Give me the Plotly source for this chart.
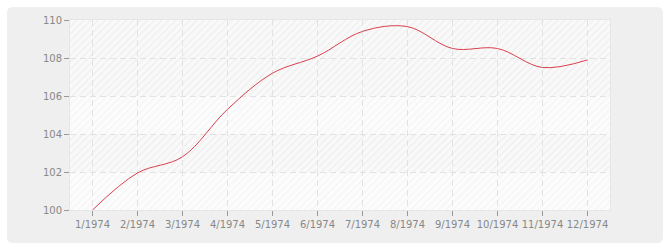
import plotly.graph_objects as go

months = ["1/1974", "2/1974", "3/1974", "4/1974", "5/1974", "6/1974",
          "7/1974", "8/1974", "9/1974", "10/1974", "11/1974", "12/1974"]
values = [100.0, 101.95, 102.8, 105.3, 107.2, 108.1, 109.4, 109.65, 108.5, 108.5, 107.5, 107.9]
y_ticks = [100, 102, 104, 106, 108, 110]
light_bands = [101, 105]
dark_bands = [103, 107, 109]

W, H = 670, 250
ML, MR, MT, MB = 70, 60, 20, 40
pw, ph = W - ML - MR, H - MT - MB

def px(x):
    return (x - ML) / pw

def py(y):
    return (H - MB - y) / ph

# rounded panel path in paper coords
x0, x1, yt, yb = px(7), px(663), py(7), py(243)
rx, ry = 6 / pw, 6 / ph
panel = (f"M{x0+rx},{yt} L{x1-rx},{yt} Q{x1},{yt} {x1},{yt-ry} "
         f"L{x1},{yb+ry} Q{x1},{yb} {x1-rx},{yb} L{x0+rx},{yb} "
         f"Q{x0},{yb} {x0},{yb+ry} L{x0},{yt-ry} Q{x0},{yt} {x0+rx},{yt} Z")

fig = go.Figure()

for centers, bg, fg in [(light_bands, "#fcfcfc", "#f3f3f3"),
                        (dark_bands, "#f9f9f9", "#ececec")]:
    fig.add_trace(go.Bar(
        y=centers, x=[1] * len(centers), base=0, width=2, orientation="h",
        xaxis="x", yaxis="y",
        marker=dict(color=bg, line=dict(width=0),
                    pattern=dict(shape="/", size=5, solidity=0.2,
                                 fgcolor=fg, bgcolor=bg, fgopacity=1, fillmode="replace")),
        hoverinfo="skip", showlegend=False))

fig.add_trace(go.Scatter(
    x=months, y=values, mode="lines", xaxis="x2", yaxis="y2",
    line=dict(color="#d9404c", width=1, shape="spline", smoothing=1),
    showlegend=False))

axis_common = dict(showgrid=True, gridcolor="#e2e2e2", griddash="6px,4px", gridwidth=1,
                   ticks="outside", ticklen=5, tickcolor="#999999",
                   showline=True, linecolor="#e6e6e6", mirror=True, zeroline=False,
                   automargin=False,
                   tickfont=dict(family="DejaVu Sans", size=10, color="#888888"))

fig.update_layout(
    width=W, height=H,
    margin=dict(l=ML, r=MR, t=MT, b=MB),
    paper_bgcolor="white",
    plot_bgcolor="rgba(0,0,0,0)",
    font=dict(family="DejaVu Sans", size=10, color="#888888"),
    bargap=0,
    barmode="overlay",
    xaxis=dict(range=[0, 1], visible=False, domain=[0, 1], fixedrange=True),
    yaxis=dict(range=[100, 110], visible=False, domain=[0, 1], fixedrange=True),
    xaxis2=dict(anchor="y2", domain=[0, 1], type="category", range=[-0.5, 11.5],
                tickangle=0, **axis_common),
    yaxis2=dict(anchor="x2", domain=[0, 1], range=[100, 110], tickvals=y_ticks,
                **axis_common),
    shapes=[dict(type="path", path=panel, xref="paper", yref="paper",
                 fillcolor="#efefef", line=dict(width=0), layer="below")],
)

fig.write_html("out.html")
